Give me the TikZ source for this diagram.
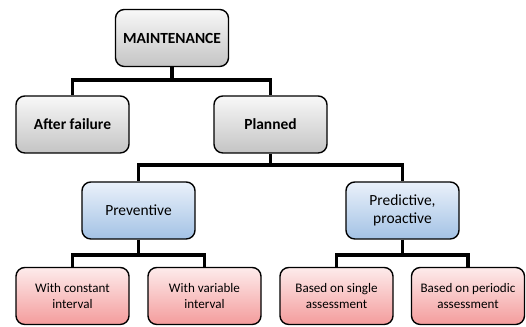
\documentclass[tikz,border=0pt]{standalone}
\usepackage{fontspec}
\setmainfont{Carlito}
\usepackage{tikz}
\usepackage{xcolor}

\definecolor{greytop}{HTML}{F8F8F8}
\definecolor{greybot}{HTML}{C4C4C4}
\definecolor{bluetop}{HTML}{EAF1FA}
\definecolor{bluebot}{HTML}{A3C2E5}
\definecolor{pinktop}{HTML}{FDEBEB}
\definecolor{pinkbot}{HTML}{F49C9C}

\begin{document}
\begin{tikzpicture}[
    box/.style={draw=black, line width=1pt, rounded corners=0.22cm, minimum width=2.825cm, minimum height=1.425cm, align=center, inner sep=2pt},
    greybox/.style={box, top color=greytop, bottom color=greybot, font=\fontsize{11}{13}\selectfont\bfseries},
    bluebox/.style={box, top color=bluetop, bottom color=bluebot, font=\fontsize{11}{13}\selectfont},
    pinkbox/.style={box, top color=pinktop, bottom color=pinkbot, font=\fontsize{9.3}{12}\selectfont},
    link/.style={draw=black, line width=2.2pt}
    ]
    \useasboundingbox (0,0) rectangle (13.15,8.175);

    \node[greybox] (maint)   at (4.3,7.225)     {MAINTENANCE};
    \node[greybox] (after)   at (1.8125,5.0625) {After failure};
    \node[greybox] (planned) at (6.7625,5.0625) {Planned};
    \node[bluebox] (prev)    at (3.4625,2.9125) {Preventive};
    \node[bluebox] (pred)    at (10.0625,2.9125) {Predictive,\\proactive};
    \node[pinkbox] (const)   at (1.8125,0.775)  {With constant\\interval};
    \node[pinkbox] (var)     at (5.1125,0.775)  {With variable\\interval};
    \node[pinkbox] (single)  at (8.4125,0.775)  {Based on single\\assessment};
    \node[pinkbox] (period)  at (11.7,0.775)    {Based on periodic\\assessment};

    \coordinate (busA) at (0,6.175);
    \coordinate (busB) at (0,4.05);
    \coordinate (busC) at (0,1.8);

    \draw[link] (maint.south) -- (maint.south |- busA) -| (after.north);
    \draw[link] (maint.south |- busA) -| (planned.north);
    \draw[link] (planned.south) -- (planned.south |- busB) -| (prev.north);
    \draw[link] (planned.south |- busB) -| (pred.north);
    \draw[link] (prev.south) -- (prev.south |- busC) -| (const.north);
    \draw[link] (prev.south |- busC) -| (var.north);
    \draw[link] (pred.south) -- (pred.south |- busC) -| (single.north);
    \draw[link] (pred.south |- busC) -| (period.north);
\end{tikzpicture}
\end{document}
